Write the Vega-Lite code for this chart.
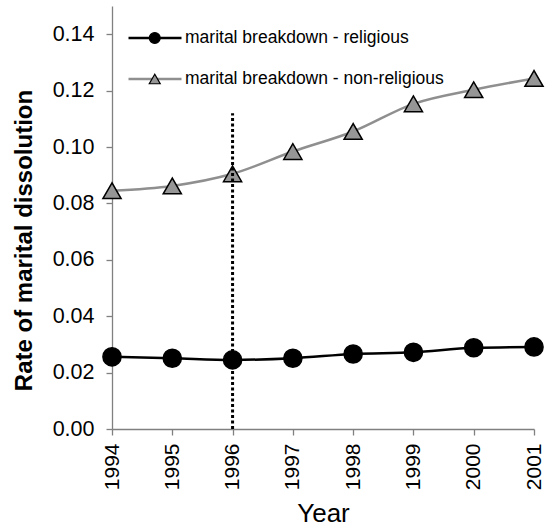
{
  "$schema": "https://vega.github.io/schema/vega-lite/v6.json",
  "width": 422,
  "height": 423,
  "autosize": {"type": "none"},
  "padding": {"left": 112, "top": 6, "right": 14, "bottom": 102},
  "config": {
    "font": "Liberation Sans",
    "view": {"stroke": null},
    "axis": {"grid": false, "domainColor": "#808080", "tickColor": "#808080", "domainWidth": 1.3, "tickWidth": 1.3, "labelColor": "black", "titleColor": "black", "labelFont": "Liberation Sans", "titleFont": "Liberation Sans"}
  },
  "datasets": {
    "rates": [
      {"year": 1994, "rate": 0.0256, "series": "marital breakdown - religious"},
      {"year": 1995, "rate": 0.0251, "series": "marital breakdown - religious"},
      {"year": 1996, "rate": 0.0245, "series": "marital breakdown - religious"},
      {"year": 1997, "rate": 0.0251, "series": "marital breakdown - religious"},
      {"year": 1998, "rate": 0.0266, "series": "marital breakdown - religious"},
      {"year": 1999, "rate": 0.0272, "series": "marital breakdown - religious"},
      {"year": 2000, "rate": 0.0288, "series": "marital breakdown - religious"},
      {"year": 2001, "rate": 0.0291, "series": "marital breakdown - religious"},
      {"year": 1994, "rate": 0.0845, "series": "marital breakdown - non-religious"},
      {"year": 1995, "rate": 0.0862, "series": "marital breakdown - non-religious"},
      {"year": 1996, "rate": 0.0905, "series": "marital breakdown - non-religious"},
      {"year": 1997, "rate": 0.0984, "series": "marital breakdown - non-religious"},
      {"year": 1998, "rate": 0.1055, "series": "marital breakdown - non-religious"},
      {"year": 1999, "rate": 0.1153, "series": "marital breakdown - non-religious"},
      {"year": 2000, "rate": 0.1203, "series": "marital breakdown - non-religious"},
      {"year": 2001, "rate": 0.1243, "series": "marital breakdown - non-religious"}
    ],
    "marker": [{"year": 1996, "low": 0, "high": 0.112}]
  },
  "encoding": {
    "x": {
      "field": "year", "type": "quantitative",
      "scale": {"domain": [1994, 2001], "nice": false, "zero": false},
      "axis": {"title": "Year", "values": [1994, 1995, 1996, 1997, 1998, 1999, 2000, 2001], "format": "d", "labelAngle": -90, "labelFontSize": 21, "titleFontSize": 26, "titleFontWeight": "normal", "tickSize": 6, "labelPadding": 8, "titlePadding": 11}
    }
  },
  "layer": [
    {
      "data": {"name": "rates"},
      "mark": {"type": "line", "strokeWidth": 2.5, "interpolate": "monotone"},
      "encoding": {
        "y": {
          "field": "rate", "type": "quantitative",
          "scale": {"domain": [0, 0.15], "nice": false},
          "axis": {"title": "Rate of marital dissolution", "values": [0, 0.02, 0.04, 0.06, 0.08, 0.1, 0.12, 0.14], "format": ".2f", "labelFontSize": 21.5, "titleFontSize": 24, "titleFontWeight": "bold", "tickSize": 6, "labelPadding": 12, "titlePadding": 16, "titleY": 234}
        },
        "stroke": {
          "field": "series", "type": "nominal",
          "scale": {"domain": ["marital breakdown - religious", "marital breakdown - non-religious"], "range": ["black", "#8f8f8f"]},
          "legend": {"title": null, "orient": "none", "legendX": 15, "legendY": 11.5, "symbolType": "stroke", "symbolSize": 2809, "symbolStrokeWidth": 2.5, "labelFontSize": 17.5, "labelFont": "Liberation Sans", "labelColor": "black", "labelOffset": 2, "labelLimit": 400, "clipHeight": 41, "rowPadding": 0, "padding": 0}
        }
      }
    },
    {
      "data": {"name": "rates"},
      "mark": {"type": "point", "filled": true, "stroke": "black", "strokeWidth": 1.5, "size": 330, "opacity": 1},
      "encoding": {
        "y": {"field": "rate", "type": "quantitative"},
        "fill": {
          "field": "series", "type": "nominal",
          "sort": ["marital breakdown - religious", "marital breakdown - non-religious"],
          "scale": {"range": ["black", "#969696"]},
          "legend": null
        },
        "shape": {
          "field": "series", "type": "nominal",
          "sort": ["marital breakdown - religious", "marital breakdown - non-religious"],
          "scale": {"range": ["circle", "triangle-up"]},
          "legend": {"title": null, "orient": "none", "legendX": 34, "legendY": 11.5, "symbolSize": 120, "symbolFillColor": {"expr": "datum.value === 'marital breakdown - religious' ? 'black' : '#969696'"}, "symbolStrokeColor": "black", "symbolStrokeWidth": 1.2, "symbolOpacity": 1, "labelExpr": "''", "labelFontSize": 17.5, "clipHeight": 41, "rowPadding": 0, "padding": 0}
        }
      }
    },
    {
      "data": {"name": "marker"},
      "mark": {"type": "rule", "color": "black", "strokeWidth": 3, "strokeDash": [3, 2.5]},
      "encoding": {
        "y": {"field": "low", "type": "quantitative"},
        "y2": {"field": "high"}
      }
    }
  ]
}
